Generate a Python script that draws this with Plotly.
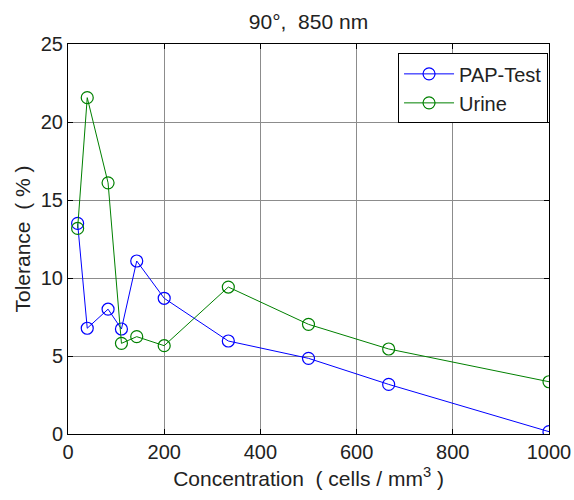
import plotly.graph_objects as go

concentration = [20, 40, 83.3, 111.1, 142.9, 200, 333.3, 500, 666.7, 1000]
pap_test = [13.5, 6.78, 8.0, 6.73, 11.09, 8.7, 5.96, 4.85, 3.18, 0.15]
urine = [13.18, 21.56, 16.1, 5.81, 6.24, 5.66, 9.42, 7.03, 5.45, 3.35]

x_ticks = [0, 200, 400, 600, 800, 1000]
y_ticks = [0, 5, 10, 15, 20, 25]

font = "Liberation Sans, Arial, sans-serif"

fig = go.Figure()
fig.add_trace(go.Scatter(
    x=concentration, y=pap_test, name="PAP-Test", mode="lines+markers",
    line=dict(color="#0000ff", width=1),
    marker=dict(symbol="circle-open", size=12, color="#0000ff", line=dict(width=1.2)),
))
fig.add_trace(go.Scatter(
    x=concentration, y=urine, name="Urine", mode="lines+markers",
    line=dict(color="#008000", width=1),
    marker=dict(symbol="circle-open", size=12, color="#008000", line=dict(width=1.2)),
))

axis_common = dict(
    showline=True, linecolor="black", linewidth=1, mirror="ticks",
    ticks="inside", ticklen=5, tickcolor="black",
    showgrid=True, gridcolor="#8c8c8c", gridwidth=1,
    zeroline=False, tickfont=dict(family=font, size=20, color="#222"),
    automargin=False, ticklabeloverflow="allow",
)

fig.update_layout(
    width=574, height=500,
    margin=dict(l=68, r=25, t=44, b=66),
    paper_bgcolor="white", plot_bgcolor="white",
    font=dict(family=font, size=20, color="#222"),
    title=dict(text="90°,&nbsp; 850 nm", x=0.5, xref="paper", xanchor="center",
               y=0.956, yref="container", yanchor="middle",
               font=dict(family=font, size=21, color="#222")),
    xaxis=dict(range=[0, 1000], tickvals=x_ticks,
               title=dict(text="Concentration&nbsp; ( cells / mm<sup>3</sup> )", standoff=9,
                          font=dict(family=font, size=21)),
               **axis_common),
    yaxis=dict(range=[0, 25], tickvals=y_ticks,
               title=dict(text="Tolerance&nbsp; ( % )", standoff=4, font=dict(family=font, size=21)),
               **axis_common),
    legend=dict(x=0.998, y=0.976, xanchor="right", yanchor="top",
                bgcolor="white", bordercolor="black", borderwidth=1,
                font=dict(family=font, size=20, color="#222"),
                itemwidth=50, tracegroupgap=0),
    showlegend=True,
)

fig.write_html("out.html")
